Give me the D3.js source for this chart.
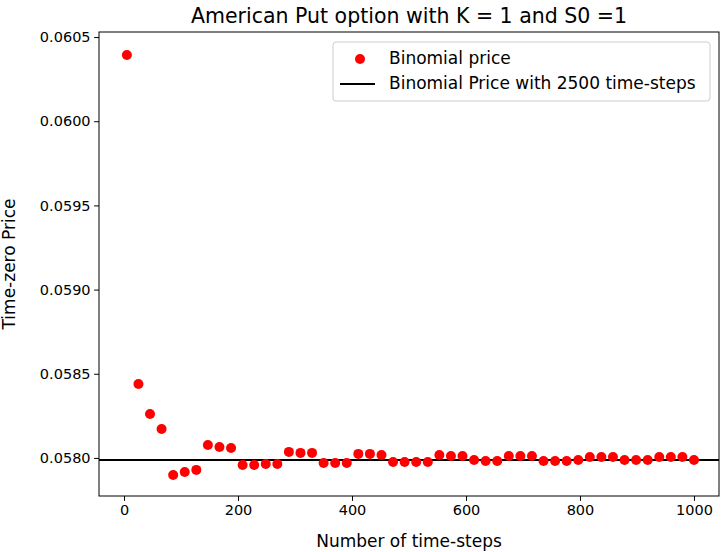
<!DOCTYPE html>
<html><head><meta charset="utf-8">
<script src="https://cdn.jsdelivr.net/npm/d3@7"></script>
<style>body{margin:0;background:#fff}text{font-family:"DejaVu Sans",sans-serif}</style>
</head><body><div id="chart"></div>
<script>
const steps = d3.range(50).map(i => 5 + i * 995 / 49);
const prices = [0.060393,0.058439,0.058261,0.058172,0.057899,0.057917,0.057929,0.058077,0.058065,0.058059,
  0.057958,0.057958,0.057964,0.057964,0.058036,0.05803,0.05803,0.05797,0.05797,0.05797,
  0.058024,0.058024,0.058018,0.057976,0.057976,0.057976,0.057976,0.058018,0.058012,0.058012,
  0.057988,0.057982,0.057982,0.058012,0.058012,0.058012,0.057982,0.057982,0.057982,0.057988,
  0.058006,0.058006,0.058006,0.057988,0.057988,0.057988,0.058006,0.058006,0.058006,0.057988];
const refPrice = 0.057988;
const xTicks = [0, 200, 400, 600, 800, 1000];
const yTicks = [0.0580, 0.0585, 0.0590, 0.0595, 0.0600, 0.0605];

const width = 726, height = 552;
const m = { left: 99, right: 719, top: 32, bottom: 496 };

const svg = d3.select("#chart").append("svg").attr("width", width).attr("height", height);
const x = d3.scaleLinear([-43.9, 1043.9], [m.left, m.right]);
const y = d3.scaleLinear([0.057774, 0.060530], [m.bottom, m.top]);

svg.append("g").attr("transform", `translate(0,${m.bottom})`)
  .call(d3.axisBottom(x).tickValues(xTicks).tickSize(4.9).tickPadding(3.5).tickFormat(d3.format("d")))
  .call(g => g.select(".domain").remove())
  .selectAll("text").attr("font-size", 14.5).attr("fill", "#000");
svg.append("g").attr("transform", `translate(${m.left},0)`)
  .call(d3.axisLeft(y).tickValues(yTicks).tickSize(4.9).tickPadding(3.5).tickFormat(d3.format(".4f")))
  .call(g => g.select(".domain").remove())
  .selectAll("text").attr("font-size", 14.5).attr("fill", "#000");

svg.append("line").attr("x1", m.left).attr("x2", m.right).attr("y1", y(refPrice)).attr("y2", y(refPrice))
  .attr("stroke", "#000").attr("stroke-width", 2);

svg.append("g").selectAll("circle").data(steps).join("circle")
  .attr("cx", d => x(d)).attr("cy", (d, i) => y(prices[i])).attr("r", 5).attr("fill", "red");

svg.append("rect").attr("x", m.left).attr("y", m.top).attr("width", m.right - m.left).attr("height", m.bottom - m.top)
  .attr("fill", "none").attr("stroke", "#000");

svg.append("text").attr("x", (m.left + m.right) / 2).attr("y", 23).attr("text-anchor", "middle")
  .attr("font-size", 20.5).text("American Put option with K = 1 and S0 =1");
svg.append("text").attr("x", (m.left + m.right) / 2).attr("y", 547).attr("text-anchor", "middle")
  .attr("font-size", 17).text("Number of time-steps");
svg.append("text").attr("transform", `translate(15,${(m.top + m.bottom) / 2}) rotate(-90)`).attr("text-anchor", "middle")
  .attr("font-size", 17).text("Time-zero Price");

const lg = svg.append("g").attr("transform", "translate(333,42)");
lg.append("rect").attr("width", 377).attr("height", 59).attr("rx", 3).attr("fill", "#fff").attr("stroke", "#ccc");
lg.append("circle").attr("cx", 27).attr("cy", 17).attr("r", 5).attr("fill", "red");
lg.append("line").attr("x1", 7).attr("x2", 42).attr("y1", 42).attr("y2", 42).attr("stroke", "#000").attr("stroke-width", 2);
lg.append("text").attr("x", 56).attr("y", 22).attr("font-size", 17).text("Binomial price");
lg.append("text").attr("x", 56).attr("y", 47).attr("font-size", 17).text("Binomial Price with 2500 time-steps");
</script></body></html>
